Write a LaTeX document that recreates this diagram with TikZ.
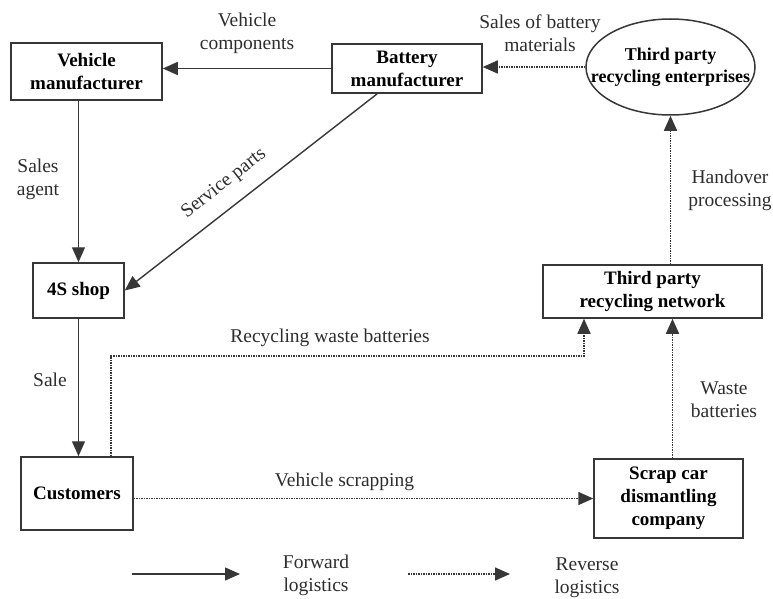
\documentclass[tikz,border=0pt]{standalone}
\usepackage{fontspec}
\setmainfont{Liberation Serif}
\usepackage{xcolor}
\usepackage{tikz}
\usetikzlibrary{arrows.meta,shapes.geometric}
\definecolor{edgegray}{RGB}{55,55,55}
\definecolor{labelgray}{RGB}{45,45,45}

\begin{document}
\begin{tikzpicture}[x=1pt,y=-1pt,
  unit/.style={draw=edgegray,line width=1.5pt,align=center,inner sep=0pt,
    font=\fontsize{19}{23}\selectfont\bfseries},
  lbl/.style={align=center,text=labelgray,inner sep=0pt,
    font=\fontsize{19.5}{23}\selectfont},
  fwd/.style={draw=edgegray,line width=1.4pt,-{Triangle[length=15pt,width=13pt]}},
  rev/.style={draw=edgegray,line width=1.5pt,densely dotted,
    -{Triangle[length=15pt,width=13pt]}}]
  \useasboundingbox (0,0) rectangle (773,599);
  % ---- actors
  \node[unit,minimum width=151pt,minimum height=57pt] (vm) at (86.5,71.5) {Vehicle\\manufacturer};
  \node[unit,minimum width=150pt,minimum height=49pt] (batt) at (407,68.5) {Battery\\manufacturer};
  \node[unit,ellipse,minimum width=169pt,minimum height=96pt] (ent) at (670.5,67) {};
  \node[align=center,inner sep=0pt,font=\fontsize{18}{22}\selectfont\bfseries]
    (entname) at (ent.center) {Third party\\recycling enterprises};
  \node[unit,minimum width=91pt,minimum height=55pt] (shop) at (78.5,290.5) {4S shop};
  \node[unit,minimum width=219pt,minimum height=53pt] (net) at (652.5,291.5) {Third party\\recycling network};
  \node[unit,minimum width=112pt,minimum height=73pt] (cust) at (77,493.5) {Customers};
  \node[unit,minimum width=149pt,minimum height=79pt] (scrap) at (668.5,498.5) {Scrap car\\dismantling\\company};
  % ---- forward flows
  \draw[fwd] (batt.west) -- (batt.west -| vm.east);
  \draw[fwd] (vm.south -| shop.north) -- (shop.north);
  \draw[fwd] ([xshift=46pt]batt.south west) -- (shop.east)
    node[lbl,pos=0.55,sloped,above=14pt] (sp) {Service parts};
  \draw[fwd] (shop.south) -- (shop.south |- cust.north);
  % ---- reverse flows
  \coordinate (rw) at (111,356);
  \draw[rev] (cust.north -| rw) -- (rw) -| ([xshift=-68.5pt]net.south);
  \draw[rev] ([yshift=-5pt]cust.east) -- (scrap.west);
  \draw[rev] ([xshift=4pt]scrap.north) -- ([xshift=4pt]scrap.north |- net.south);
  \draw[rev] (ent.south |- net.north) -- (ent.south);
  \draw[rev] (ent.west) -- (ent.west -| batt.east);
  % ---- flow labels
  \node[lbl] (vc) at (247,33.5) {Vehicle\\components};
  \node[lbl] (sbm) at (540,33.5) {Sales of battery\\materials};
  \node[lbl] (sa) at (38,179.5) {Sales\\agent};
  \node[lbl] (sale) at (50,380) {Sale};
  \node[lbl] (rwb) at (330,338) {Recycling waste batteries};
  \node[lbl] (vs) at (344.5,482) {Vehicle scrapping};
  \node[lbl] (hp) at (730,190) {Handover\\processing};
  \node[lbl] (wb) at (724,400) {Waste\\batteries};
  % ---- legend
  \coordinate (fa) at (132,574);
  \coordinate (fb) at (240,574);
  \coordinate (ra) at (408,574);
  \coordinate (rb) at (510,574);
  \draw[fwd] (fa) -- (fb);
  \draw[rev] (ra) -- (rb);
  \node[lbl] (fl) at (316,575.5) {Forward\\logistics};
  \node[lbl] (rl) at (587,578) {Reverse\\logistics};
\end{tikzpicture}
\end{document}
